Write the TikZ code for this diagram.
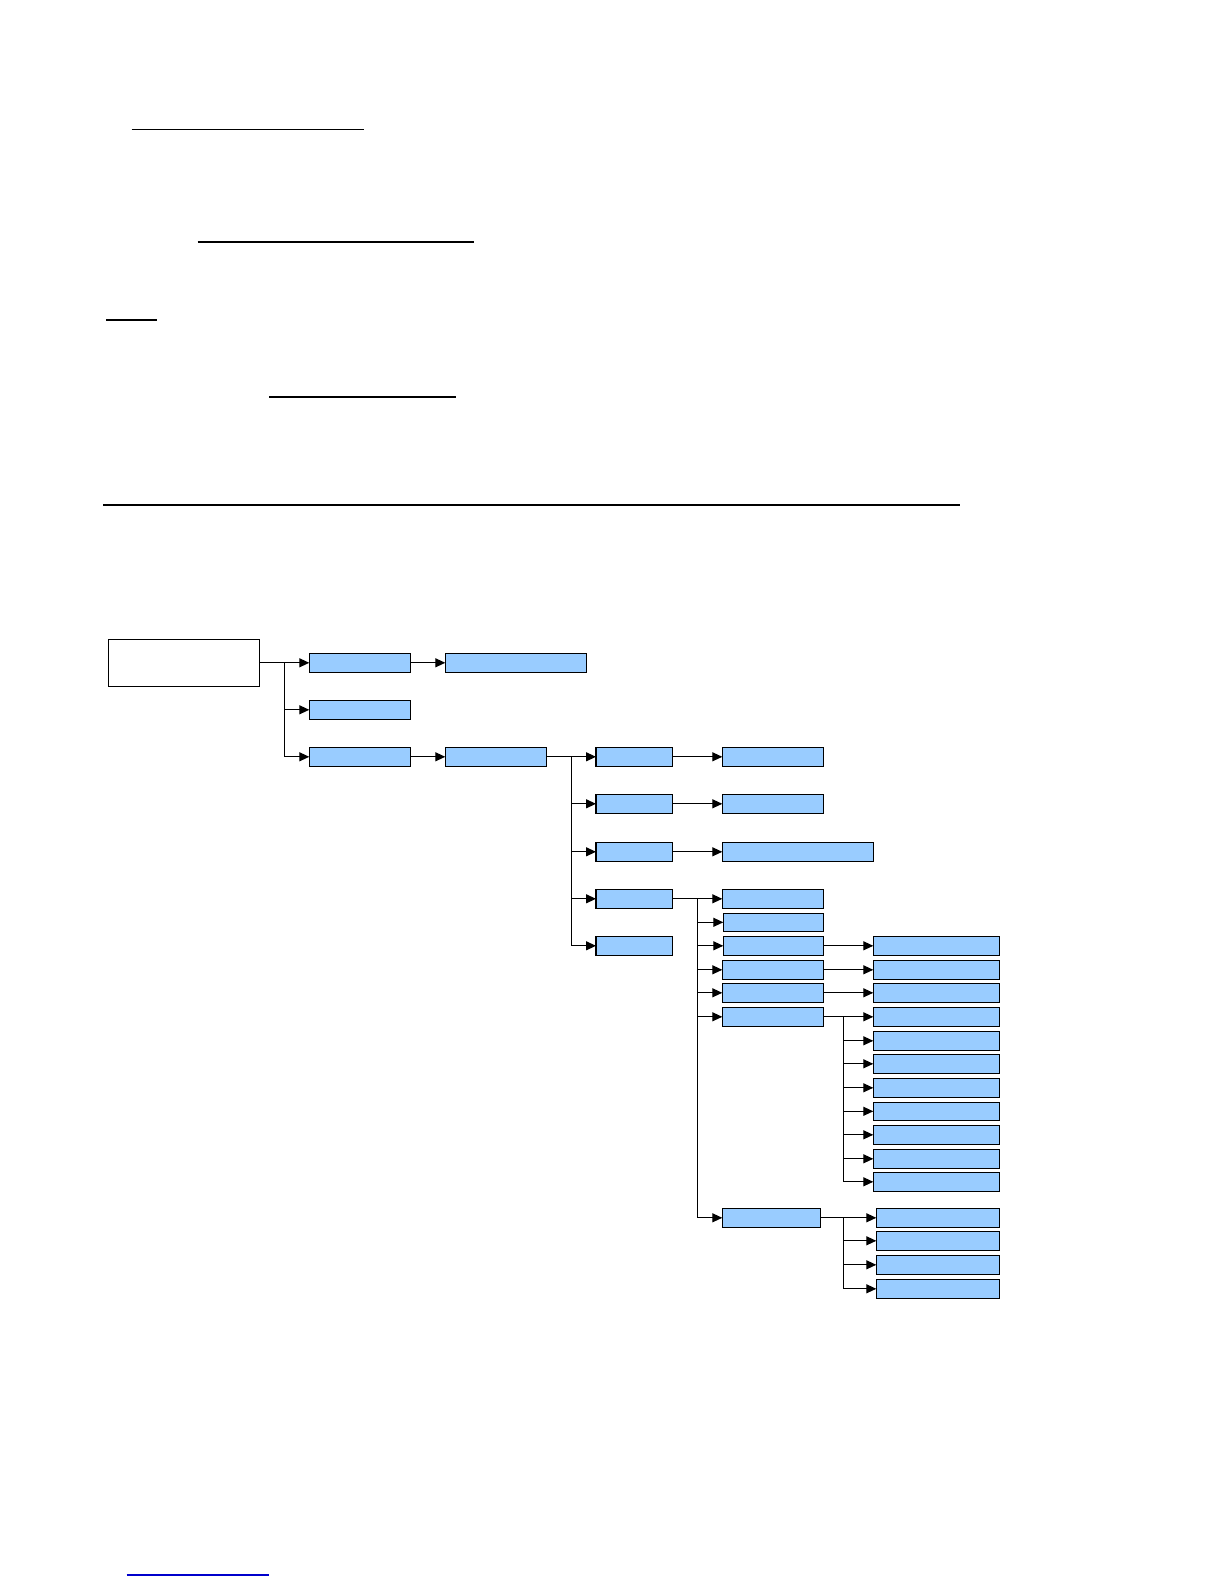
\documentclass[tikz,border=0pt]{standalone}
\usetikzlibrary{arrows.meta}
\definecolor{boxblue}{HTML}{99CCFF}
\definecolor{linkblue}{HTML}{0000CC}
\begin{document}
\begin{tikzpicture}[x=0.5pt,y=-0.5pt,
  bbox/.style={draw=black,fill=boxblue,line width=0.6pt,inner sep=0pt,outer sep=0pt,anchor=north west},
  wbox/.style={bbox,fill=white},
  arr/.style={line width=0.6pt,-{Triangle[length=5pt,width=4.5pt]}},
  ln/.style={line width=0.6pt}]
\useasboundingbox (0,0) rectangle (1224,1584);
\newcommand\bx[6][bbox]{\node[#1,minimum width=#5*0.5pt,minimum height=#6*0.5pt] (#2) at (#3,#4) {};}
% top rules
\draw[line width=0.6pt] (131.7,129.3) -- (363.7,129.3);
\draw[line width=1.1pt] (197.7,242) -- (474,242);
\draw[line width=1.1pt] (106,320) -- (157,320);
\draw[line width=0.6pt] (269,397) -- (456,397);
\draw[line width=1.2pt] (103.3,504.7) -- (960,504.7);
\draw[line width=0.7pt,linkblue] (126.7,1575) -- (269,1575);
% boxes
\bx[wbox]{root}{108.3}{639.3}{151.4}{47}
\bx{a1}{309.3}{653.3}{101.4}{19}
\bx{a2}{309.3}{700.3}{101.4}{19}
\bx{a3}{309.3}{747.3}{101.4}{19}
\bx{b1}{445.3}{653.3}{141}{19}
\bx{b3}{445.3}{747.3}{101.4}{19}
\bx{c1}{596}{747.3}{76.7}{19}
\bx{c2}{596}{794.3}{76.7}{19}
\bx{c3}{596}{842.3}{76.7}{19}
\bx{c4}{596}{889.3}{76.7}{19}
\bx{c5}{596}{936.3}{76.7}{19}
\bx{d1}{722.3}{747.3}{101}{19}
\bx{d2}{722.3}{794.3}{101}{19}
\bx{d3}{722.3}{842.3}{151}{19}
\bx{e1}{722.3}{889.3}{101}{19}
\bx{e2}{723.3}{913.3}{100}{18}
\bx{e3}{723.3}{936.3}{100}{19}
\bx{e4}{722.3}{960.3}{101}{19}
\bx{e5}{722.3}{983.3}{101}{19}
\bx{e6}{722.3}{1007.3}{101}{19}
\bx{e7}{722.3}{1208.3}{98.4}{19}
\bx{f3}{873.3}{936.3}{126}{19}
\bx{f4}{873.3}{960.3}{126}{19}
\bx{f5}{873.3}{983.3}{126}{19}
\bx{g1}{873.3}{1007.3}{126}{19}
\bx{g2}{873.3}{1031.3}{126}{19}
\bx{g3}{873.3}{1054.3}{126}{19}
\bx{g4}{873.3}{1078.3}{126}{19}
\bx{g5}{873.3}{1102.3}{126}{18}
\bx{g6}{873.3}{1125.3}{126}{19}
\bx{g7}{873.3}{1149.3}{126}{19}
\bx{g8}{873.3}{1172.3}{126}{19}
\bx{h1}{876.3}{1208.3}{123}{19}
\bx{h2}{876.3}{1231.3}{123}{19}
\bx{h3}{876.3}{1255.3}{123}{19}
\bx{h4}{876.3}{1279.3}{123}{19}
% trunks
\coordinate (t1) at (284.3,662.8);
\coordinate (t2) at (571.7,756.8);
\coordinate (t3) at (697.3,898.8);
\coordinate (t4) at (843.3,1016.8);
\coordinate (t5) at (843.3,1217.8);
% connectors
\draw[arr] (root.east |- a1.west) -- (a1.west);
\draw[arr] (t1) |- (a2.west);
\draw[arr] (t1) |- (a3.west);
\draw[arr] (a1.east) -- (b1.west);
\draw[arr] (a3.east) -- (b3.west);
\draw[arr] (b3.east) -- (c1.west);
\foreach \n in {c2,c3,c4,c5} \draw[arr] (t2) |- (\n.west);
\draw[arr] (c1.east) -- (d1.west);
\draw[arr] (c2.east) -- (d2.west);
\draw[arr] (c3.east) -- (d3.west);
\draw[arr] (c4.east) -- (e1.west);
\foreach \n in {e2,e3,e4,e5,e6,e7} \draw[arr] (t3) |- (\n.west);
\draw[arr] (e3.east) -- (f3.west);
\draw[arr] (e4.east) -- (f4.west);
\draw[arr] (e5.east) -- (f5.west);
\draw[arr] (e6.east) -- (g1.west);
\foreach \n in {g2,g3,g4,g5,g6,g7,g8} \draw[arr] (t4) |- (\n.west);
\draw[arr] (e7.east) -- (h1.west);
\foreach \n in {h2,h3,h4} \draw[arr] (t5) |- (\n.west);
\end{tikzpicture}
\end{document}
